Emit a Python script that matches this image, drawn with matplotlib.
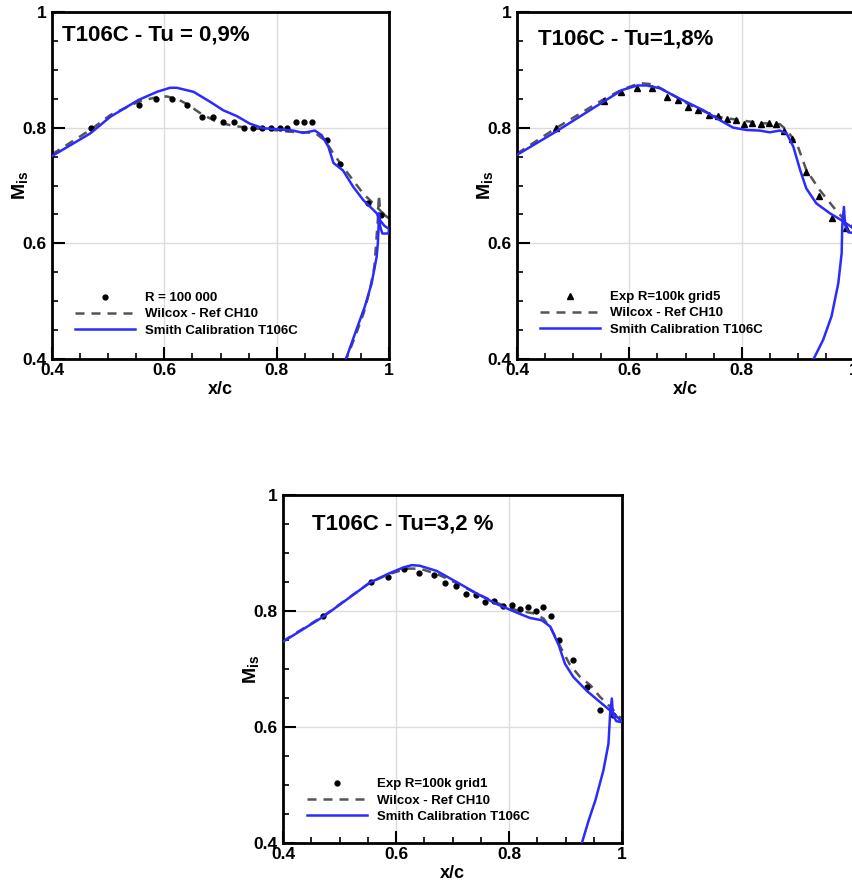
import matplotlib
matplotlib.use('Agg')
import matplotlib.pyplot as plt
from matplotlib.ticker import MultipleLocator

plt.rcParams['font.family'] = ['Liberation Sans', 'DejaVu Sans']
plt.rcParams['font.weight'] = 'bold'
plt.rcParams['mathtext.fontset'] = 'custom'
plt.rcParams['mathtext.bf'] = 'Liberation Sans:bold'
plt.rcParams['mathtext.rm'] = 'Liberation Sans:bold'

x_ticks = [0.4, 0.6, 0.8, 1.0]
x_tick_labels = ['0.4', '0.6', '0.8', '1']
y_ticks = [0.4, 0.6, 0.8, 1.0]
y_tick_labels = ['0.4', '0.6', '0.8', '1']

titles = ['T106C - Tu = 0,9%', 'T106C - Tu=1,8%', 'T106C - Tu=3,2 %']
exp_labels = ['R = 100 000', 'Exp R=100k grid5', 'Exp R=100k grid1']
wilcox_label = 'Wilcox - Ref CH10'
smith_label = 'Smith Calibration T106C'

# --- Tu = 0.9 %
tu09_exp_x = [0.469, 0.554, 0.585, 0.613, 0.641, 0.667, 0.686, 0.705, 0.724, 0.742, 0.758,
              0.774, 0.790, 0.806, 0.819, 0.834, 0.848, 0.862, 0.889, 0.912, 0.962, 0.985]
tu09_exp_y = [0.800, 0.839, 0.849, 0.849, 0.839, 0.819, 0.819, 0.809, 0.809, 0.800, 0.800,
              0.800, 0.800, 0.800, 0.800, 0.809, 0.809, 0.809, 0.778, 0.738, 0.670, 0.649]
tu09_wil_x = [0.400, 0.468, 0.504, 0.554, 0.587, 0.604, 0.622, 0.640, 0.664, 0.693, 0.723,
              0.758, 0.794, 0.824, 0.868, 0.886, 0.901, 0.918, 0.936, 0.954, 0.972, 0.986,
              1.000, 0.984, 0.982, 0.980, 0.977, 0.974, 0.966, 0.955, 0.940, 0.924, 0.910]
tu09_wil_y = [0.754, 0.796, 0.822, 0.845, 0.853, 0.854, 0.850, 0.841, 0.825, 0.810, 0.803,
              0.799, 0.796, 0.793, 0.791, 0.778, 0.755, 0.732, 0.709, 0.686, 0.669, 0.655,
              0.643, 0.655, 0.684, 0.640, 0.600, 0.560, 0.520, 0.480, 0.440, 0.400, 0.370]
tu09_smi_x = [0.400, 0.468, 0.504, 0.554, 0.587, 0.610, 0.622, 0.652, 0.681, 0.705, 0.729,
              0.752, 0.776, 0.806, 0.829, 0.847, 0.868, 0.880, 0.892, 0.901, 0.918, 0.936,
              0.954, 0.978, 0.984, 0.992, 1.000, 0.999, 0.988, 0.984, 0.982, 0.981, 0.980,
              0.978, 0.969, 0.957, 0.942, 0.927, 0.915]
tu09_smi_y = [0.751, 0.790, 0.819, 0.848, 0.862, 0.869, 0.869, 0.862, 0.845, 0.830, 0.820,
              0.807, 0.799, 0.797, 0.795, 0.791, 0.795, 0.787, 0.767, 0.739, 0.726, 0.698,
              0.675, 0.652, 0.640, 0.630, 0.625, 0.617, 0.617, 0.630, 0.652, 0.620, 0.600,
              0.577, 0.531, 0.491, 0.451, 0.410, 0.380]

# --- Tu = 1.8 %
tu18_exp_x = [0.469, 0.554, 0.585, 0.614, 0.641, 0.667, 0.686, 0.705, 0.723, 0.741, 0.757,
              0.774, 0.790, 0.805, 0.819, 0.834, 0.848, 0.861, 0.875, 0.890, 0.914, 0.937,
              0.961, 0.985]
tu18_exp_y = [0.799, 0.846, 0.862, 0.869, 0.868, 0.853, 0.848, 0.836, 0.830, 0.822, 0.820,
              0.815, 0.814, 0.807, 0.808, 0.806, 0.808, 0.807, 0.794, 0.780, 0.724, 0.681,
              0.643, 0.627]
tu18_wil_x = [0.400, 0.469, 0.554, 0.587, 0.619, 0.643, 0.678, 0.714, 0.755, 0.797, 0.832,
              0.868, 0.880, 0.898, 0.915, 0.939, 0.963, 0.986, 1.000]
tu18_wil_y = [0.755, 0.799, 0.849, 0.866, 0.877, 0.875, 0.856, 0.836, 0.819, 0.813, 0.808,
              0.806, 0.796, 0.773, 0.727, 0.692, 0.663, 0.637, 0.628]
tu18_smi_x = [0.400, 0.469, 0.554, 0.587, 0.614, 0.631, 0.655, 0.690, 0.732, 0.761, 0.785,
              0.809, 0.832, 0.850, 0.868, 0.880, 0.892, 0.904, 0.915, 0.933, 0.957, 0.981,
              1.000, 0.999, 0.990, 0.984, 0.982, 0.979, 0.978, 0.972, 0.960, 0.945, 0.928,
              0.915]
tu18_smi_y = [0.753, 0.793, 0.845, 0.865, 0.873, 0.873, 0.868, 0.850, 0.830, 0.813, 0.800,
              0.796, 0.795, 0.792, 0.795, 0.790, 0.767, 0.727, 0.695, 0.669, 0.652, 0.638,
              0.625, 0.618, 0.619, 0.632, 0.663, 0.629, 0.583, 0.531, 0.474, 0.433, 0.400,
              0.370]

# --- Tu = 3.2 %
tu32_exp_x = [0.471, 0.555, 0.586, 0.615, 0.641, 0.667, 0.687, 0.706, 0.724, 0.742, 0.758,
              0.773, 0.790, 0.805, 0.820, 0.834, 0.848, 0.861, 0.875, 0.888, 0.913, 0.938,
              0.961, 0.984]
tu32_exp_y = [0.791, 0.850, 0.859, 0.872, 0.865, 0.862, 0.848, 0.843, 0.830, 0.827, 0.816,
              0.817, 0.809, 0.810, 0.804, 0.807, 0.800, 0.806, 0.792, 0.750, 0.716, 0.669,
              0.630, 0.620]
tu32_wil_x = [0.400, 0.471, 0.554, 0.586, 0.619, 0.642, 0.672, 0.707, 0.743, 0.778, 0.814,
              0.843, 0.861, 0.876, 0.891, 0.908, 0.926, 0.944, 0.961, 0.982, 0.998]
tu32_wil_y = [0.748, 0.791, 0.849, 0.863, 0.873, 0.873, 0.864, 0.848, 0.830, 0.814, 0.801,
              0.796, 0.787, 0.767, 0.738, 0.707, 0.686, 0.672, 0.652, 0.632, 0.615]
tu32_smi_x = [0.400, 0.471, 0.554, 0.586, 0.613, 0.628, 0.642, 0.672, 0.707, 0.743, 0.778,
              0.814, 0.837, 0.858, 0.873, 0.888, 0.899, 0.914, 0.938, 0.961, 0.982, 0.997,
              1.000, 0.990, 0.984, 0.982, 0.979, 0.976, 0.967, 0.953, 0.941, 0.929, 0.920]
tu32_smi_y = [0.747, 0.790, 0.849, 0.864, 0.875, 0.879, 0.878, 0.869, 0.850, 0.830, 0.812,
              0.797, 0.788, 0.784, 0.773, 0.741, 0.709, 0.686, 0.662, 0.643, 0.626, 0.612,
              0.608, 0.610, 0.620, 0.649, 0.623, 0.571, 0.525, 0.474, 0.439, 0.400, 0.375]

panels = [
    (tu09_exp_x, tu09_exp_y, tu09_wil_x, tu09_wil_y, tu09_smi_x, tu09_smi_y, 'o'),
    (tu18_exp_x, tu18_exp_y, tu18_wil_x, tu18_wil_y, tu18_smi_x, tu18_smi_y, '^'),
    (tu32_exp_x, tu32_exp_y, tu32_wil_x, tu32_wil_y, tu32_smi_x, tu32_smi_y, 'o'),
]
# axes rectangles in figure fraction
rects = [[0.0610, 0.5939, 0.3951, 0.3925],
         [0.6061, 0.5939, 0.3951, 0.3925],
         [0.3318, 0.0464, 0.3974, 0.3937]]
title_pos = [(0.418, 0.960), (0.437, 0.953), (0.451, 0.950)]
legend_pos = [(0.068, 0.193), (0.068, 0.196), (0.071, 0.186)]

fig = plt.figure(figsize=(8.53, 8.84), dpi=100)

for i, (ex, ey, wx, wy, sx, sy, mk) in enumerate(panels):
    ax = fig.add_axes(rects[i])
    ax.set_xlim(0.4, 1.0)
    ax.set_ylim(0.4, 1.0)
    ax.grid(True, color='#dcdcdc', linewidth=1.0, zorder=0)
    ax.set_axisbelow(True)

    ms = 3.5 if mk == 'o' else 4.5
    ax.plot(ex, ey, linestyle='none', marker=mk, color='black', markersize=ms,
            label=exp_labels[i], zorder=3, clip_on=False)
    ax.plot(wx, wy, linestyle=(0, (3.6, 2.8)), color='#555555', linewidth=1.8,
            label=wilcox_label, zorder=2)
    ax.plot(sx, sy, color='#2b2bff', linewidth=1.8, label=smith_label, zorder=4)

    ax.set_xticks(x_ticks)
    ax.set_xticklabels(x_tick_labels)
    ax.set_yticks(y_ticks)
    ax.set_yticklabels(y_tick_labels)
    ax.xaxis.set_minor_locator(MultipleLocator(0.05))
    ax.yaxis.set_minor_locator(MultipleLocator(0.05))
    ax.tick_params(which='both', direction='in', top=False, right=False, labelsize=12.5)
    ax.tick_params(which='major', length=9, width=1.5)
    ax.tick_params(which='minor', length=4.5, width=1.2)
    ax.tick_params(axis='x', pad=3)
    ax.tick_params(axis='y', pad=4)
    for sp in ax.spines.values():
        sp.set_linewidth(2.0)

    ax.set_xlabel('x/c', fontsize=13, fontweight='bold', labelpad=2)
    ax.set_ylabel(r'$\mathbf{M}_{\mathbf{is}}$', fontsize=14)
    ax.yaxis.set_label_coords(-0.062, 0.5)

    ax.text(title_pos[i][0], title_pos[i][1], titles[i], fontsize=16, fontweight='bold',
            va='center', ha='left')

    ax.legend(loc='upper left', bbox_to_anchor=legend_pos[i], frameon=False, fontsize=9.5,
              numpoints=1, handlelength=4.55, handletextpad=0.76, labelspacing=0.3,
              borderpad=0, borderaxespad=0)

fig.savefig('out.png', dpi=100)
